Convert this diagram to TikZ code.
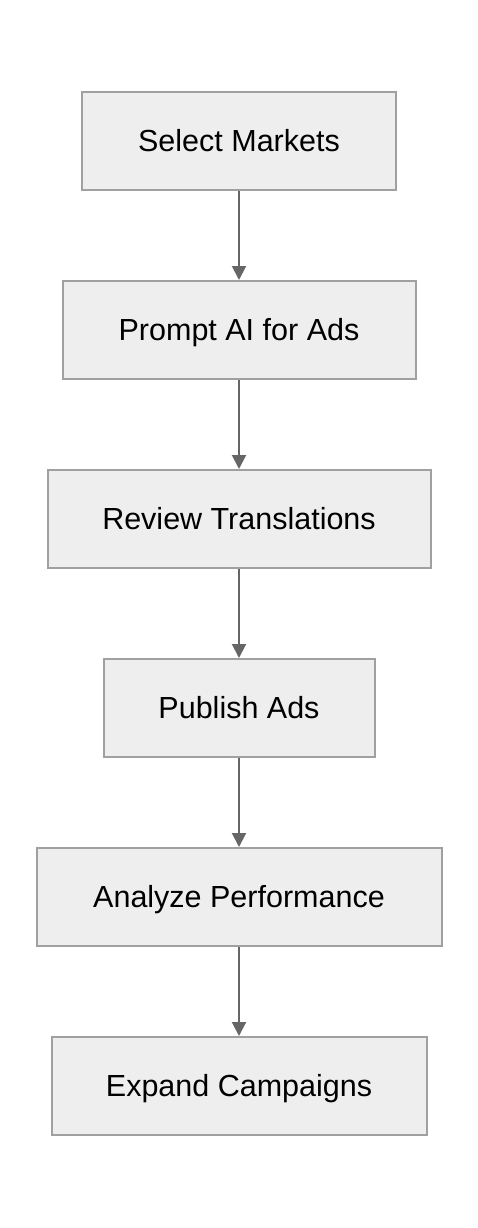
\documentclass[tikz,border=0pt]{standalone}
\usepackage{fontspec}
\setmainfont{Liberation Sans}
\usetikzlibrary{arrows.meta}
\definecolor{boxfill}{HTML}{EEEEEE}
\definecolor{boxline}{HTML}{A0A0A0}
\definecolor{arrowcol}{HTML}{666666}
\tikzset{
  stepbox/.style={draw=boxline, fill=boxfill, line width=2pt, minimum height=98pt,
    inner sep=0pt, text height=21.8pt, text depth=0pt,
    font=\fontsize{30.5}{36}\selectfont, text=black},
  flow/.style={draw=arrowcol, line width=2pt, -{Triangle[length=14pt,width=14pt]}}
}
\begin{document}
\begin{tikzpicture}[x=1pt,y=-1pt]
\useasboundingbox (0,0) rectangle (478,1228);
\node[stepbox, minimum width=314pt] (a) at (239,141) {Select Markets};
\node[stepbox, minimum width=353pt] (b) at (239,330) {Prompt AI for Ads};
\node[stepbox, minimum width=383pt] (c) at (239,519) {Review Translations};
\node[stepbox, minimum width=271pt] (d) at (239,708) {Publish Ads};
\node[stepbox, minimum width=405pt] (e) at (239,897) {Analyze Performance};
\node[stepbox, minimum width=375pt] (f) at (239,1086) {Expand Campaigns};
\draw[flow] (a) -- (b);
\draw[flow] (b) -- (c);
\draw[flow] (c) -- (d);
\draw[flow] (d) -- (e);
\draw[flow] (e) -- (f);
\end{tikzpicture}
\end{document}
